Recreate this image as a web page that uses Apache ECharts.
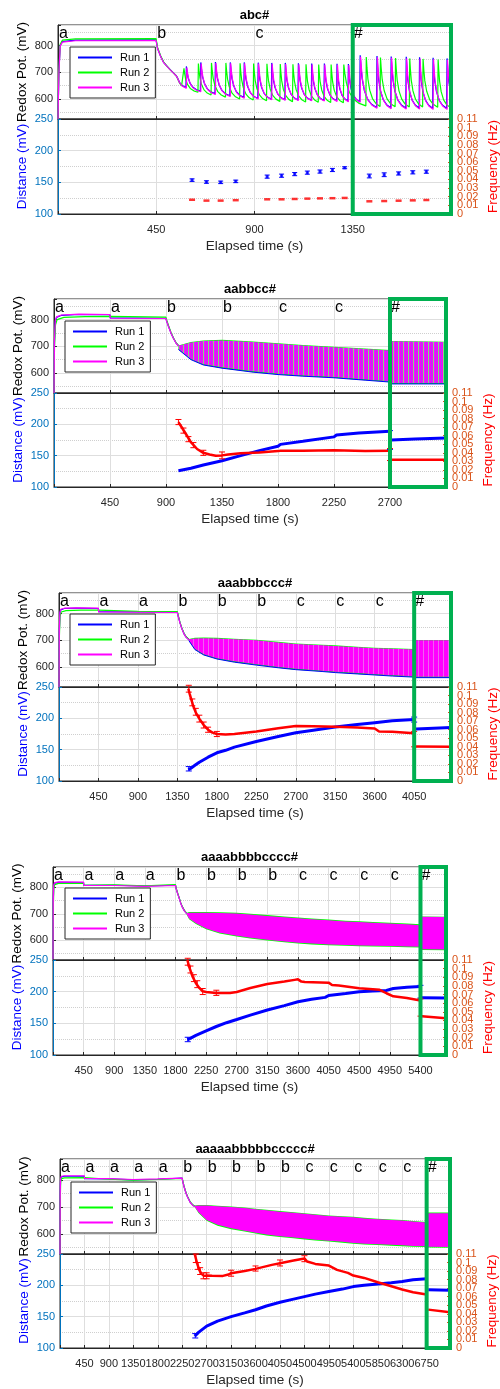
<!DOCTYPE html>
<html>
<head>
<meta charset="utf-8">
<script src="https://cdn.jsdelivr.net/npm/echarts@6/dist/echarts.min.js"></script>
<style>
html, body { margin: 0; padding: 0; background: #fff; }
#main { width: 500px; height: 1389px; }
</style>
</head>
<body>
<div id="main"></div>
<script>
// 各面板标题 / 横轴范围 / "#" 段起点
var titles = ['abc#', 'aabbcc#', 'aaabbbccc#', 'aaaabbbbcccc#', 'aaaaabbbbbccccc#'];
var xMax = [1800, 3150, 4470, 5775, 7180];
var hashT = [1350, 2700, 4050, 5400, 6750];
var freqTicks = [0, 0.01, 0.02, 0.03, 0.04, 0.05, 0.06, 0.07, 0.08, 0.09, 0.1, 0.11];
var runNames = ['Run 1', 'Run 2', 'Run 3'];
var runColors = ['#0000ff', '#00ff00', '#ff00ff'];

// ---- panel 1: redox, individual spikes ----
var p1Pre1 = [[0,525],[4,700],[10,800],[20,815],[80,820],[449,821],[456,790],[470,760],[484,737],[500,722],[514,710],[530,697],[542,687],[548,678],[558,660],[570,650],[586,642]];
var p1Pre2 = [[0,525],[4,705],[10,805],[20,820],[80,825],[449,826],[456,793],[470,762],[484,738],[500,722],[514,709],[530,696],[542,686],[548,676],[558,658],[566,649],[575,645]];
var p1Pre3 = [[0,525],[4,695],[10,798],[20,813],[80,818],[449,819],[456,789],[470,759],[484,736],[500,721],[514,709],[530,696],[542,686],[548,677],[558,659],[570,648],[588,640]];
var p1T1 = [586, 652, 719, 787, 851, 915, 977, 1039, 1099, 1160, 1218, 1276, 1328, 1382, 1459, 1524, 1593, 1654, 1716, 1780];
var p1P1 = [722, 737, 738, 737, 737, 736, 735, 735, 734, 733, 733, 732, 731, 764, 761, 759, 758, 756, 754, 752];
var p1Q1 = [630, 620, 612, 606, 602, 599, 597, 596, 595, 594, 593, 592, 590, 568, 567, 566, 566, 565, 565, 565];
var p1T2 = [575, 641, 701, 767, 832, 894, 955, 1016, 1074, 1134, 1192, 1249, 1307, 1410, 1475, 1544, 1609, 1670, 1739, 1797];
var p1P2 = [715, 733, 735, 735, 734, 733, 732, 731, 730, 730, 729, 729, 729, 757, 755, 753, 752, 750, 748, 745];
var p1Q2 = [625, 615, 607, 600, 596, 593, 591, 590, 589, 588, 587, 586, 574, 572, 571, 570, 570, 569, 568, 568];
var p1T3 = [588, 654, 721, 789, 853, 917, 979, 1041, 1101, 1162, 1220, 1278, 1330, 1384, 1461, 1526, 1595, 1656, 1718, 1782];
var p1P3 = [718, 733, 735, 734, 734, 733, 732, 731, 730, 729, 729, 728, 727, 758, 756, 754, 752, 751, 749, 746];
var p1Q3 = [627, 617, 609, 603, 600, 597, 595, 594, 593, 592, 591, 590, 588, 565, 563, 562, 562, 561, 561, 561];
// 放电后的衰减形状 (周期比例, 剩余幅度比例)
var decayShape = [[0.05,0.78],[0.12,0.55],[0.25,0.33],[0.45,0.16],[0.7,0.06],[1,0]];

// panel 1: distance / frequency per cycle
var p1DistT = [614, 680, 745, 814, 958, 1024, 1084, 1142, 1200, 1257, 1313, 1426, 1494, 1560, 1625, 1687];
var p1Dist = [153.5, 150.5, 150, 151.5, 159, 160.5, 163, 165.3, 167, 169.5, 173, 160, 162, 164, 165.8, 166.8];
var p1DistErr = [2, 2, 2, 2, 2.5, 2.5, 2.5, 2.5, 2.5, 2.5, 1.5, 3, 3, 2.5, 2.5, 2.5];
var p1Freq = [0.0165, 0.0155, 0.0155, 0.016, 0.017, 0.017, 0.0174, 0.0178, 0.0181, 0.0183, 0.0186, 0.0147, 0.015, 0.0154, 0.0158, 0.0162];

// ---- panel 2 ----
var p2Pre1 = [[0,525],[4,720],[10,790],[20,808],[60,816],[200,819],[449,818],[452,806],[899,805],[905,795],[920,775],[940,750],[960,730],[980,713],[1000,702]];
var p2Pre2 = [[0,525],[4,700],[12,780],[25,800],[80,808],[250,811],[449,812],[452,809],[899,809],[905,799],[920,778],[940,752],[960,731],[980,714],[1000,703]];
var p2Pre3 = [[0,525],[4,725],[10,795],[20,810],[60,817],[200,820],[449,819],[452,805],[899,804],[905,794],[920,774],[940,749],[960,729],[980,712],[1000,701]];
var p2BandT = [1000, 1100, 1200, 1350, 1600, 1800, 2000, 2250, 2500, 2700];
var p2Up = [702, 714, 720, 722, 716, 709, 703, 696, 690, 684];
var p2Lo = [690, 652, 633, 621, 606, 597, 591, 585, 576, 569];
var p2UpG = [703, 716, 722, 724, 718, 711, 705, 698, 692, 686];
var p2LoG = [688, 650, 630, 618, 603, 594, 588, 582, 573, 566];
var p2HashT = [2705, 3150], p2HashUp = [719, 716], p2HashLo = [562, 562], p2HashUpG = [720, 717], p2HashLoG = [559, 559];
var p2DistT = [1000, 1100, 1200, 1350, 1500, 1650, 1800, 1820, 2000, 2250, 2270, 2450, 2700];
var p2Dist = [126, 130, 135, 142, 150, 158, 165, 168, 173, 180, 183, 186, 189];
var p2DistHT = [2710, 2900, 3150], p2DistH = [175, 176.5, 178];
var p2FreqT = [1000, 1030, 1060, 1100, 1150, 1200, 1250, 1300, 1350, 1400, 1500, 1650, 1800, 1820, 2000, 2250, 2500, 2700];
var p2Freq = [0.076, 0.069, 0.062, 0.0525, 0.0445, 0.040, 0.038, 0.0365, 0.037, 0.038, 0.0395, 0.0405, 0.042, 0.0425, 0.0425, 0.043, 0.042, 0.0425];
var p2FreqHT = [2710, 3150], p2FreqH = [0.032, 0.032];
var p2DistBars = [[2700, 160, 190]];
var p2FreqBars = [[1000,0.073,0.079],[1040,0.063,0.069],[1080,0.053,0.059],[1120,0.046,0.052],[1200,0.037,0.043],[1350,0.033,0.041],[2700,0.031,0.045]];

// ---- panel 3 ----
var p3Pre1 = [[0,525],[4,730],[10,800],[20,814],[60,819],[200,820],[449,819],[452,807],[899,806],[902,804],[1349,805],[1360,790],[1380,765],[1400,745],[1425,725],[1450,712],[1480,703]];
var p3Pre2 = [[0,525],[4,710],[12,790],[25,806],[80,811],[250,813],[449,813],[452,808],[899,808],[902,806],[1349,807],[1360,792],[1380,767],[1400,746],[1425,726],[1450,713],[1480,704]];
var p3Pre3 = [[0,525],[4,735],[10,803],[20,816],[60,820],[200,821],[449,820],[452,806],[899,805],[902,803],[1349,804],[1360,789],[1380,764],[1400,744],[1425,724],[1450,711],[1480,702]];
var p3BandT = [1480, 1550, 1650, 1800, 2000, 2250, 2500, 2700, 3000, 3150, 3400, 3600, 3800, 4050];
var p3Up = [704, 707, 708, 707, 704, 700, 692, 686, 681, 679, 674, 670, 668, 665];
var p3Lo = [700, 668, 648, 633, 621, 610, 600, 593, 586, 582, 577, 573, 569, 565];
var p3UpG = [705, 709, 710, 709, 706, 702, 694, 688, 683, 681, 676, 672, 670, 667];
var p3LoG = [699, 665, 645, 630, 618, 607, 597, 590, 583, 579, 574, 570, 566, 562];
var p3HashT = [4060, 4470], p3HashUp = [700, 700], p3HashLo = [563, 563], p3HashUpG = [701, 701], p3HashLoG = [560, 560];
var p3DistT = [1475, 1500, 1550, 1600, 1700, 1800, 1900, 2000, 2250, 2500, 2700, 2900, 3150, 3400, 3600, 3800, 4050];
var p3Dist = [118, 120, 125, 130, 138, 145, 149, 154, 163, 171, 177, 181, 186, 190, 193, 196, 198];
var p3DistHT = [4070, 4470], p3DistH = [183, 185.5];
var p3FreqT = [1475, 1490, 1510, 1530, 1560, 1600, 1650, 1700, 1750, 1800, 1900, 2000, 2250, 2500, 2700, 2900, 3150, 3400, 3600, 3650, 3800, 4050];
var p3Freq = [0.108, 0.102, 0.095, 0.088, 0.080, 0.073, 0.0655, 0.060, 0.0566, 0.055, 0.0545, 0.055, 0.0578, 0.0616, 0.0643, 0.064, 0.0636, 0.0625, 0.0615, 0.058, 0.0575, 0.056];
var p3FreqHT = [4070, 4470], p3FreqH = [0.0403, 0.040];
var p3DistBars = [[1480, 116, 123], [4050, 194, 202]];
var p3FreqBars = [[1480,0.104,0.112],[1520,0.088,0.096],[1560,0.077,0.085],[1600,0.069,0.077],[1650,0.062,0.069],[1700,0.057,0.063],[1800,0.052,0.058],[4050,0.040,0.058]];

// ---- panel 4 ----
var p4Pre1 = [[0,528],[4,740],[10,805],[25,816],[80,819],[449,818],[452,808],[899,808],[902,805],[1349,805],[1352,807],[1799,808],[1810,795],[1830,778],[1850,763],[1875,742],[1900,726],[1930,712],[1960,702]];
var p4Pre2 = [[0,528],[4,720],[12,795],[25,810],[80,815],[449,816],[452,808],[899,809],[902,806],[1349,806],[1352,809],[1799,810],[1810,797],[1830,780],[1850,764],[1875,743],[1900,727],[1930,713],[1960,703]];
var p4Pre3 = [[0,528],[4,745],[10,808],[25,818],[80,821],[449,820],[452,807],[899,807],[902,804],[1349,804],[1352,806],[1799,807],[1810,794],[1830,777],[1850,762],[1875,741],[1900,725],[1930,711],[1960,701]];
var p4BandT = [1960, 2000, 2100, 2250, 2450, 2700, 2900, 3150, 3400, 3600, 3800, 4050, 4300, 4500, 4700, 4950, 5200, 5400];
var p4Up = [702, 704, 704, 704, 703, 701, 697, 692, 687, 683, 679, 675, 671, 669, 666, 663, 660, 657];
var p4Lo = [700, 682, 664, 644, 628, 617, 609, 602, 595, 590, 587, 584, 582, 580, 579, 578, 576, 575];
var p4UpG = [703, 707, 707, 707, 706, 704, 700, 695, 690, 686, 682, 678, 674, 672, 669, 666, 663, 660];
var p4LoG = [699, 679, 661, 641, 625, 614, 606, 599, 592, 587, 584, 581, 579, 577, 576, 575, 573, 572];
var p4HashT = [5410, 5775], p4HashUp = [689, 688], p4HashLo = [566, 565], p4HashUpG = [690, 689], p4HashLoG = [563, 562];
var p4DistT = [1975, 2000, 2100, 2250, 2400, 2550, 2700, 2900, 3150, 3400, 3600, 3800, 4000, 4050, 4300, 4500, 4700, 4900, 5000, 5200, 5400];
var p4Dist = [124, 126, 131, 138, 145, 151, 156, 163, 171, 178, 184, 188, 191, 194, 197, 200, 201, 202, 205, 207, 208];
var p4DistHT = [5420, 5775], p4DistH = [190.5, 190];
var p4FreqT = [1975, 2000, 2050, 2100, 2150, 2200, 2250, 2400, 2600, 2700, 2900, 3150, 3400, 3550, 3600, 3650, 3700, 4050, 4100, 4200, 4500, 4800, 4900, 5000, 5200, 5400];
var p4Freq = [0.11, 0.1023, 0.091, 0.083, 0.0776, 0.0737, 0.073, 0.0718, 0.0718, 0.073, 0.0775, 0.0822, 0.085, 0.087, 0.0876, 0.085, 0.0845, 0.0838, 0.081, 0.0805, 0.0772, 0.0755, 0.0715, 0.068, 0.066, 0.063];
var p4FreqHT = [5420, 5775], p4FreqH = [0.0450, 0.0425];
var p4DistBars = [[1980, 121, 128], [5400, 190, 210]];
var p4FreqBars = [[1980,0.104,0.112],[2020,0.095,0.103],[2070,0.085,0.093],[2120,0.078,0.086],[2200,0.07,0.077],[2400,0.069,0.075],[5400,0.045,0.065]];

// ---- panel 5 ----
var p5Pre1 = [[0,522],[4,735],[10,800],[25,811],[80,813],[449,813],[452,804],[899,803],[902,800],[1349,800],[1352,801],[1799,802],[1802,804],[2249,806],[2260,795],[2280,778],[2300,764],[2325,748],[2350,736],[2400,716],[2450,705],[2480,702]];
var p5Pre2 = [[0,522],[4,715],[12,790],[25,804],[80,807],[449,808],[452,803],[899,802],[902,799],[1349,799],[1352,800],[1799,801],[1802,803],[2249,805],[2260,796],[2280,779],[2300,765],[2325,749],[2350,737],[2400,717],[2450,706],[2480,703]];
var p5Pre3 = [[0,522],[4,740],[10,803],[25,813],[80,815],[449,815],[452,805],[899,804],[902,801],[1349,801],[1352,802],[1799,803],[1802,805],[2249,806],[2260,794],[2280,777],[2300,763],[2325,747],[2350,735],[2400,715],[2450,704],[2480,701]];
var p5BandT = [2480, 2550, 2700, 2900, 3150, 3400, 3600, 3800, 4050, 4300, 4500, 4700, 4950, 5200, 5400, 5600, 5850, 6100, 6300, 6500, 6750];
var p5Up = [704, 705, 705, 702, 699, 695, 691, 687, 682, 678, 674, 670, 666, 663, 661, 657, 654, 651, 649, 645, 642];
var p5Lo = [700, 680, 651, 633, 620, 611, 604, 597, 591, 586, 582, 578, 574, 570, 566, 563, 561, 559, 557, 555, 554];
var p5UpG = [705, 707, 707, 704, 701, 697, 693, 689, 684, 680, 676, 672, 668, 665, 663, 659, 656, 653, 651, 647, 644];
var p5LoG = [699, 677, 648, 630, 617, 608, 601, 594, 588, 583, 579, 575, 571, 567, 563, 560, 558, 556, 554, 552, 551];
var p5HashT = [6760, 7180], p5HashUp = [676, 676], p5HashLo = [552, 551], p5HashUpG = [679, 679], p5HashLoG = [549, 548];
var p5DistT = [2480, 2550, 2700, 2900, 3150, 3400, 3600, 3800, 4050, 4300, 4500, 4700, 4950, 5200, 5400, 5600, 5850, 6100, 6300, 6500, 6750];
var p5Dist = [119, 125, 135, 143, 150, 156, 161, 167, 173, 178, 182, 186, 190, 194, 198, 200, 202, 204, 206, 209, 210.5];
var p5DistHT = [6780, 7180], p5DistH = [193, 192];
var p5FreqT = [2480, 2500, 2520, 2560, 2600, 2650, 2700, 2800, 3000, 3100, 3150, 3400, 3600, 3900, 4050, 4300, 4500, 4550, 4700, 4950, 5100, 5300, 5400, 5600, 5850, 6100, 6300, 6500, 6750];
var p5Freq = [0.11, 0.105, 0.1, 0.092, 0.087, 0.0844, 0.0848, 0.0845, 0.0844, 0.086, 0.0875, 0.09, 0.0926, 0.0973, 0.0992, 0.1023, 0.1048, 0.1012, 0.0984, 0.0965, 0.0914, 0.0879, 0.0848, 0.082, 0.077, 0.0723, 0.0684, 0.0652, 0.0625];
var p5FreqHT = [6780, 7180], p5FreqH = [0.0449, 0.0418];
var p5DistBars = [[2490, 116, 123]];
var p5FreqBars = [[2500,0.1,0.11],[2540,0.092,0.1],[2580,0.086,0.094],[2640,0.081,0.088],[2700,0.081,0.088],[3150,0.084,0.091],[3600,0.09,0.096],[4050,0.096,0.103],[4500,0.101,0.108]];

// 布局: [left, right, top, middle, bottom], legend [x, y]
var boxes = [[58, 451, 25, 119, 214], [54, 446, 299, 393, 487], [59, 451, 593, 687, 781], [53, 446, 867, 960, 1055], [60, 450, 1159, 1254, 1348]];
var legendPos = [[70, 47], [65, 321], [70, 614], [65, 888], [71, 1182]];

function zip(a, b) { return a.map(function (v, i) { return [v, b[i]]; }); }

function spikeTrace(pre, T, P, Q) {
	var pts = pre.slice();
	T.forEach(function (t0, i) {
		var t1 = i + 1 < T.length ? T[i + 1] : t0 + 65;
		var base = Q[i], h = P[i] - base, d = t1 - t0 - 2;
		pts.push([t0 + 2, P[i]]);
		decayShape.forEach(function (s) { pts.push([t0 + 2 + s[0] * d, base + s[1] * h]); });
	});
	return pts;
}

// 密集振荡的竖条纹理
function stripes(cols) {
	var c = document.createElement('canvas');
	c.width = cols.length; c.height = 4;
	var ctx = c.getContext('2d');
	cols.forEach(function (col, i) { ctx.fillStyle = col; ctx.fillRect(i, 0, 1, 4); });
	return { image: c, repeat: 'repeat' };
}
var fill2 = stripes(['#ff00ff', '#b040f0', '#ff00ff', '#80e080', '#e020ff']);
var fill3 = stripes(['#ff00ff', '#ff00ff', '#ff00ff', '#f060f0', '#ff00ff']);

var panels = [
	{ runs: [spikeTrace(p1Pre1, p1T1, p1P1, p1Q1), spikeTrace(p1Pre2, p1T2, p1P2, p1Q2), spikeTrace(p1Pre3, p1T3, p1P3, p1Q3)] },
	{ runs: [p2Pre1, p2Pre2, p2Pre3], fill: fill2, blueEdge: true,
	  bands: [[p2BandT, p2LoG, p2UpG, p2Lo, p2Up], [p2HashT, p2HashLoG, p2HashUpG, p2HashLo, p2HashUp]],
	  dist: [zip(p2DistT, p2Dist), zip(p2DistHT, p2DistH)], freq: [zip(p2FreqT, p2Freq), zip(p2FreqHT, p2FreqH)], distBars: p2DistBars, freqBars: p2FreqBars },
	{ runs: [p3Pre1, p3Pre2, p3Pre3], fill: fill3, blueEdge: true,
	  bands: [[p3BandT, p3LoG, p3UpG, p3Lo, p3Up], [p3HashT, p3HashLoG, p3HashUpG, p3HashLo, p3HashUp]],
	  dist: [zip(p3DistT, p3Dist), zip(p3DistHT, p3DistH)], freq: [zip(p3FreqT, p3Freq), zip(p3FreqHT, p3FreqH)], distBars: p3DistBars, freqBars: p3FreqBars },
	{ runs: [p4Pre1, p4Pre2, p4Pre3], fill: '#ff00ff', blueEdge: false,
	  bands: [[p4BandT, p4LoG, p4UpG, p4Lo, p4Up], [p4HashT, p4HashLoG, p4HashUpG, p4HashLo, p4HashUp]],
	  dist: [zip(p4DistT, p4Dist), zip(p4DistHT, p4DistH)], freq: [zip(p4FreqT, p4Freq), zip(p4FreqHT, p4FreqH)], distBars: p4DistBars, freqBars: p4FreqBars },
	{ runs: [p5Pre1, p5Pre2, p5Pre3], fill: '#ff00ff', blueEdge: false,
	  bands: [[p5BandT, p5LoG, p5UpG, p5Lo, p5Up], [p5HashT, p5HashLoG, p5HashUpG, p5HashLo, p5HashUp]],
	  dist: [zip(p5DistT, p5Dist), zip(p5DistHT, p5DistH)], freq: [zip(p5FreqT, p5Freq), zip(p5FreqHT, p5FreqH)], distBars: p5DistBars, freqBars: p5FreqBars }
];

var FONT = '"Liberation Sans", Arial, Helvetica, sans-serif';
var TXT = '#262626';

function lineSeries(name, xi, yi, data, color, width, z) {
	return { name: name, type: 'line', xAxisIndex: xi, yAxisIndex: yi, data: data, showSymbol: false, symbol: 'none',
		z: z, silent: true, lineStyle: { color: color, width: width }, itemStyle: { color: color } };
}

function bandSeries(xi, yi, T, lo, up, fill, z) {
	return { type: 'custom', xAxisIndex: xi, yAxisIndex: yi, z: z, silent: true, data: [[T[0], lo[0]]],
		renderItem: function (params, api) {
			var pts = [];
			for (var i = 0; i < T.length; i++) pts.push(api.coord([T[i], up[i]]));
			for (var j = T.length - 1; j >= 0; j--) pts.push(api.coord([T[j], lo[j]]));
			return { type: 'polygon', shape: { points: pts }, style: { fill: fill } };
		} };
}

function errSeries(xi, yi, rows, color, cap) {
	return { type: 'custom', xAxisIndex: xi, yAxisIndex: yi, z: 4, silent: true, data: rows,
		renderItem: function (params, api) {
			var a = api.coord([api.value(0), api.value(1)]), b = api.coord([api.value(0), api.value(2)]);
			return { type: 'group', children: [
				{ type: 'line', shape: { x1: a[0], y1: a[1], x2: b[0], y2: b[1] }, style: { stroke: color, lineWidth: 1 } },
				{ type: 'line', shape: { x1: a[0] - cap, y1: a[1], x2: a[0] + cap, y2: a[1] }, style: { stroke: color, lineWidth: 1 } },
				{ type: 'line', shape: { x1: b[0] - cap, y1: b[1], x2: b[0] + cap, y2: b[1] }, style: { stroke: color, lineWidth: 1 } }
			] };
		} };
}

var grids = [], xAxes = [], yAxes = [], series = [], legends = [];

panels.forEach(function (p, k) {
	var b = boxes[k], xm = xMax[k];
	var gt = 2 * k, gb = 2 * k + 1, yt = 3 * k, yl = 3 * k + 1, yr = 3 * k + 2;
	grids.push({ left: b[0], width: b[1] - b[0], top: b[2], height: b[3] - b[2], show: true, borderColor: TXT, borderWidth: 1, containLabel: false, outerBoundsMode: 'none' });
	grids.push({ left: b[0], width: b[1] - b[0], top: b[3], height: b[4] - b[3], show: true, borderColor: TXT, borderWidth: 1, containLabel: false, outerBoundsMode: 'none' });

	var xBase = { type: 'value', min: 0, max: xm, interval: 450, nameMoveOverlap: false,
		axisLine: { lineStyle: { color: TXT } },
		axisTick: { inside: true, length: 3, lineStyle: { color: TXT } },
		splitLine: { show: true, lineStyle: { color: '#dedede', width: 1 } } };
	xAxes.push(Object.assign({ gridIndex: gt, axisLabel: { show: false } }, xBase));
	xAxes.push(Object.assign({ gridIndex: gb,
		axisLabel: { color: TXT, fontSize: 11, fontFamily: FONT, margin: 10, hideOverlap: false,
			formatter: function (v) { return (v > 0 && v % 450 === 0 && v < xm) ? String(v) : ''; } },
		name: 'Elapsed time (s)', nameLocation: 'middle', nameGap: 25,
		nameTextStyle: { color: TXT, fontSize: 13.5, fontFamily: FONT } }, xBase));

	yAxes.push({ gridIndex: gt, type: 'value', min: 525, max: 877, splitNumber: 3, nameMoveOverlap: false,
		axisLine: { show: true, lineStyle: { color: TXT } },
		axisTick: { show: true, inside: true, length: 3, lineStyle: { color: TXT } },
		axisLabel: { color: TXT, fontSize: 11, fontFamily: FONT, margin: 5, align: 'right',
			formatter: function (v) { return v % 100 === 0 ? String(v) : ''; } },
		splitLine: { show: true, lineStyle: { color: '#dedede' } },
		minorTick: { show: false, splitNumber: 2 },
		minorSplitLine: { show: true, lineStyle: { color: '#cfcfcf', type: 'dotted' } },
		name: 'Redox Pot. (mV)', nameLocation: 'middle', nameGap: 29,
		nameTextStyle: { color: '#000', fontSize: 13.5, fontFamily: FONT } });
	yAxes.push({ gridIndex: gb, type: 'value', min: 100, max: 250, interval: 50, nameMoveOverlap: false,
		axisLine: { show: true, lineStyle: { color: '#0072BD' } },
		axisTick: { show: true, inside: true, length: 3, lineStyle: { color: '#0072BD' } },
		axisLabel: { color: '#0072BD', fontSize: 11, fontFamily: FONT, margin: 5, align: 'right', showMinLabel: true, showMaxLabel: true },
		splitLine: { show: true, lineStyle: { color: '#dedede' } },
		minorTick: { show: false, splitNumber: 2 },
		minorSplitLine: { show: true, lineStyle: { color: '#cfcfcf', type: 'dotted' } },
		name: 'Distance (mV)', nameLocation: 'middle', nameGap: 29,
		nameTextStyle: { color: '#0000ff', fontSize: 13.5, fontFamily: FONT } });
	// 右轴刻度文字在下面用 graphic 画 (标签互相重叠, 库会自动隐藏一部分)
	yAxes.push({ gridIndex: gb, type: 'value', position: 'right', min: 0, max: 0.11, interval: 0.01, nameMoveOverlap: false,
		axisLine: { show: true, lineStyle: { color: '#D95319' } },
		axisTick: { show: true, inside: true, length: 3, lineStyle: { color: '#D95319' } },
		axisLabel: { show: false },
		splitLine: { show: false },
		name: 'Frequency (Hz)', nameLocation: 'middle', nameGap: 35,
		nameTextStyle: { color: '#ff0000', fontSize: 13.5, fontFamily: FONT } });

	// 顶部: 氧化还原电位
	if (p.bands) {
		p.bands.forEach(function (bd) {
			series.push(bandSeries(gt, yt, bd[0], bd[1], bd[2], runColors[1], 2));
			series.push(bandSeries(gt, yt, bd[0], bd[3], bd[4], p.fill, 2));
			if (p.blueEdge) series.push(lineSeries(null, gt, yt, zip(bd[0], bd[1]), runColors[0], 1, 2));
		});
	}
	p.runs.forEach(function (d, r) { series.push(lineSeries(runNames[r], gt, yt, d, runColors[r], 1.2, 3)); });

	// 底部: 距离 / 频率
	if (k === 0) {
		series.push(errSeries(gb, yl, p1DistT.map(function (t, i) { return [t, p1Dist[i] - p1DistErr[i], p1Dist[i] + p1DistErr[i]]; }), '#0000ff', 2.5));
		series.push({ type: 'scatter', xAxisIndex: gb, yAxisIndex: yl, data: zip(p1DistT, p1Dist), symbol: 'rect', symbolSize: [3, 3], z: 5, silent: true, itemStyle: { color: '#0000ff' } });
		series.push({ type: 'scatter', xAxisIndex: gb, yAxisIndex: yr, data: zip(p1DistT, p1Freq), symbol: 'rect', symbolSize: [6, 2.5], z: 5, silent: true, itemStyle: { color: '#ff0000' } });
	} else {
		p.dist.forEach(function (d) { series.push(lineSeries(null, gb, yl, d, '#0000ff', 3, 3)); });
		p.freq.forEach(function (d) { series.push(lineSeries(null, gb, yr, d, '#ff0000', 2.5, 3)); });
		series.push(errSeries(gb, yl, p.distBars, '#0000ff', 3));
		series.push(errSeries(gb, yr, p.freqBars, '#ff0000', 3));
	}

	legends.push({ data: runNames, orient: 'vertical', left: legendPos[k][0], top: legendPos[k][1],
		icon: 'rect', padding: [5, 6, 5, 8], itemGap: 4, itemWidth: 34, itemHeight: 2, selectedMode: false,
		backgroundColor: '#fff', borderColor: TXT, borderWidth: 1, borderRadius: 0, z: 10,
		textStyle: { color: '#000', fontSize: 11, fontFamily: FONT, padding: [0, 0, 0, 3] } });
});

var chart = echarts.init(document.getElementById('main'), null, { width: 500, height: 1389 });
chart.setOption({
	animation: false,
	backgroundColor: '#fff',
	grid: grids,
	xAxis: xAxes,
	yAxis: yAxes,
	legend: legends,
	series: series
});

// 标题, 阶段字母, 右轴刻度, 绿色框
var g = [];
panels.forEach(function (p, k) {
	var b = boxes[k], title = titles[k];
	g.push({ type: 'text', x: (b[0] + b[1]) / 2, y: b[2] - 10, z: 100,
		style: { text: title, font: 'bold 13px ' + FONT, fill: '#000', align: 'center', verticalAlign: 'middle' } });
	for (var i = 0; i < title.length; i++) {
		var px = chart.convertToPixel({ xAxisIndex: 2 * k }, i * 450);
		g.push({ type: 'text', x: px + 1, y: b[2] + 1, z: 100,
			style: { text: title.charAt(i), font: '16px ' + FONT, fill: '#000', align: 'left', verticalAlign: 'top' } });
	}
	freqTicks.forEach(function (v) {
		var py = chart.convertToPixel({ yAxisIndex: 3 * k + 2 }, v);
		g.push({ type: 'text', x: b[1] + 6, y: py, z: 50,
			style: { text: String(v), font: '11px ' + FONT, fill: '#D95319', align: 'left', verticalAlign: 'middle' } });
	});
	var rx = chart.convertToPixel({ xAxisIndex: 2 * k }, hashT[k]);
	var rx2 = chart.convertToPixel({ xAxisIndex: 2 * k }, xMax[k]);
	g.push({ type: 'rect', z: 100, shape: { x: rx, y: b[2], width: rx2 - rx, height: b[4] - b[2] },
		style: { fill: 'none', stroke: '#00B050', lineWidth: 4 } });
});
chart.setOption({ graphic: g });
</script>
</body>
</html>
